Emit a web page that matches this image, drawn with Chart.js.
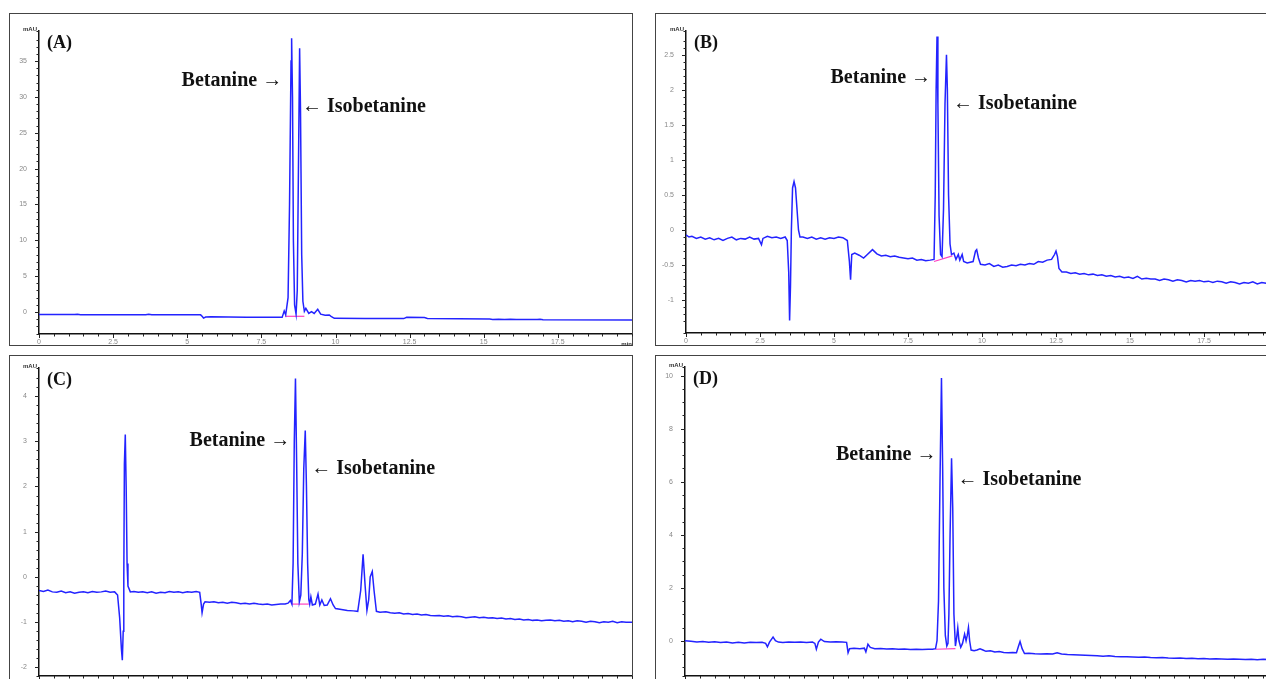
<!DOCTYPE html>
<html>
<head>
<meta charset="utf-8">
<script src="https://cdn.jsdelivr.net/npm/chart.js@4.4.1/dist/chart.umd.min.js"></script>
<style>
  html, body { margin: 0; padding: 0; width: 1266px; height: 679px; overflow: hidden; background: #fff; }
  canvas { position: absolute; }
</style>
</head>
<body>
<canvas id="panelA" width="624" height="333" style="left:9px;top:13px"></canvas>
<canvas id="panelB" width="624" height="333" style="left:655px;top:13px"></canvas>
<canvas id="panelC" width="624" height="333" style="left:9px;top:355px"></canvas>
<canvas id="panelD" width="624" height="333" style="left:655px;top:355px"></canvas>
<script>
// retention time (min), absorbance (mAU)
var traceA = [[0,-0.35],[1.2,-0.36],[1.3,-0.3],[1.4,-0.37],[2.5,-0.38],[3.6,-0.38],[3.7,-0.3],[3.8,-0.39],[5.45,-0.4],
  [5.5,-0.6],[5.55,-0.85],[5.62,-0.7],[5.8,-0.68],[7,-0.72],[8.2,-0.75],[8.27,0.14],[8.32,-0.4],[8.4,2],[8.45,15],
  [8.5,35],[8.52,38.2],[8.55,30],[8.58,10],[8.62,1],[8.67,-0.3],[8.71,3],[8.75,20],[8.79,36.8],[8.82,28],[8.86,8],
  [8.9,1.5],[8.95,0.1],[9.0,0.5],[9.1,-0.2],[9.19,0.04],[9.28,-0.2],[9.4,0.37],[9.5,-0.3],[9.65,-0.45],[9.79,-0.42],
  [9.85,-0.6],[9.96,-0.88],[11,-0.9],[12.3,-0.92],[12.4,-0.75],[13,-0.78],[13.1,-0.9],[15.2,-0.98],[15.3,-1.05],
  [15.5,-1.0],[15.7,-1.05],[15.9,-1.0],[16.1,-1.05],[16.8,-1.06],[16.9,-1.0],[17,-1.07],[20,-1.1]];

var traceB = [[0,-0.07],[0.1,-0.1],[0.2,-0.09],[0.35,-0.12],[0.5,-0.1],[0.65,-0.13],[0.8,-0.11],[0.95,-0.14],[1.1,-0.12],
  [1.25,-0.15],[1.4,-0.12],[1.55,-0.1],[1.7,-0.14],[1.85,-0.12],[2.0,-0.13],[2.15,-0.1],[2.3,-0.13],[2.45,-0.12],
  [2.55,-0.21],[2.6,-0.12],[2.75,-0.09],[2.9,-0.11],[3.05,-0.1],[3.2,-0.12],[3.35,-0.1],[3.42,-0.15],[3.47,-0.6],
  [3.5,-1.29],[3.53,-0.8],[3.56,0.0],[3.6,0.6],[3.65,0.69],[3.7,0.6],[3.75,0.3],[3.8,0.0],[3.85,-0.1],[3.95,-0.1],
  [4.1,-0.12],[4.25,-0.1],[4.4,-0.13],[4.55,-0.11],[4.7,-0.13],[4.85,-0.11],[5.0,-0.12],[5.15,-0.1],[5.3,-0.11],
  [5.45,-0.15],[5.52,-0.45],[5.56,-0.71],[5.6,-0.35],[5.7,-0.33],[5.85,-0.36],[6.0,-0.4],[6.1,-0.36],[6.3,-0.28],
  [6.45,-0.34],[6.6,-0.37],[6.75,-0.36],[6.9,-0.38],[7.05,-0.37],[7.2,-0.39],[7.35,-0.4],[7.5,-0.41],[7.65,-0.4],
  [7.8,-0.43],[7.95,-0.42],[8.1,-0.44],[8.25,-0.43],[8.38,-0.42],[8.42,0.5],[8.45,2.0],[8.48,2.76],[8.51,1.8],
  [8.55,0.2],[8.6,-0.35],[8.65,-0.38],[8.7,0.3],[8.75,1.8],[8.8,2.5],[8.83,2.0],[8.87,0.5],[8.92,-0.2],[8.97,-0.35],
  [9.05,-0.33],[9.12,-0.42],[9.2,-0.35],[9.25,-0.43],[9.33,-0.35],[9.38,-0.45],[9.5,-0.47],[9.6,-0.46],[9.7,-0.45],
  [9.78,-0.3],[9.82,-0.28],[9.88,-0.4],[9.95,-0.49],[10.1,-0.5],[10.25,-0.48],[10.4,-0.52],[10.55,-0.5],[10.7,-0.53],
  [10.85,-0.52],[11.0,-0.5],[11.15,-0.51],[11.3,-0.49],[11.45,-0.5],[11.6,-0.48],[11.75,-0.49],[11.9,-0.45],
  [12.05,-0.46],[12.2,-0.43],[12.35,-0.42],[12.45,-0.35],[12.5,-0.3],[12.55,-0.38],[12.6,-0.55],[12.7,-0.6],
  [12.85,-0.6],[13.0,-0.62],[13.15,-0.61],[13.3,-0.63],[13.45,-0.62],[13.6,-0.64],[13.75,-0.63],[13.9,-0.65],
  [14.05,-0.64],[14.2,-0.66],[14.35,-0.65],[14.5,-0.67],[14.65,-0.66],[14.8,-0.68],[14.95,-0.67],[15.1,-0.69],
  [15.25,-0.66],[15.4,-0.7],[15.55,-0.69],[15.7,-0.7],[15.85,-0.7],[16.0,-0.72],[16.15,-0.7],[16.3,-0.71],
  [16.45,-0.73],[16.6,-0.71],[16.75,-0.72],[16.9,-0.74],[17.05,-0.72],[17.2,-0.73],[17.35,-0.72],[17.5,-0.74],
  [17.65,-0.73],[17.8,-0.75],[17.95,-0.73],[18.1,-0.74],[18.25,-0.76],[18.4,-0.74],[18.55,-0.75],[18.7,-0.77],
  [18.85,-0.75],[19.0,-0.76],[19.15,-0.74],[19.3,-0.77],[19.45,-0.75],[19.6,-0.76],[19.8,-0.77],[20.0,-0.76]];

var traceC = [[0,-0.3],[0.15,-0.32],[0.3,-0.29],[0.45,-0.33],[0.6,-0.34],[0.75,-0.31],[0.9,-0.35],[1.05,-0.33],
  [1.2,-0.36],[1.35,-0.34],[1.5,-0.33],[1.65,-0.35],[1.8,-0.32],[1.95,-0.34],[2.1,-0.33],[2.25,-0.31],[2.4,-0.34],
  [2.55,-0.33],[2.65,-0.4],[2.72,-0.9],[2.78,-1.6],[2.81,-1.84],[2.84,-1.2],[2.86,0.0],[2.88,2.5],[2.91,3.15],
  [2.94,2.0],[2.97,0.3],[3.0,-0.2],[3.08,-0.33],[3.2,-0.32],[3.35,-0.34],[3.5,-0.33],[3.65,-0.35],[3.8,-0.33],
  [3.95,-0.36],[4.1,-0.34],[4.25,-0.35],[4.4,-0.32],[4.55,-0.34],[4.7,-0.33],[4.85,-0.35],[5.0,-0.33],[5.15,-0.34],
  [5.3,-0.32],[5.42,-0.34],[5.47,-0.6],[5.5,-0.79],[5.55,-0.6],[5.6,-0.55],[5.75,-0.56],[5.9,-0.55],[6.05,-0.57],
  [6.2,-0.56],[6.35,-0.58],[6.5,-0.56],[6.65,-0.57],[6.8,-0.59],[6.95,-0.58],[7.1,-0.6],[7.25,-0.58],[7.4,-0.6],
  [7.55,-0.61],[7.7,-0.6],[7.85,-0.62],[8.0,-0.61],[8.15,-0.6],[8.3,-0.6],[8.4,-0.58],[8.48,-0.52],[8.53,-0.6],
  [8.57,0.3],[8.61,3.0],[8.65,4.39],[8.69,2.5],[8.73,0.3],[8.78,-0.55],[8.83,-0.4],[8.88,0.5],[8.93,2.4],[8.98,3.24],
  [9.02,2.0],[9.06,0.3],[9.1,-0.5],[9.13,-0.6],[9.17,-0.44],[9.22,-0.62],[9.32,-0.6],[9.41,-0.38],[9.47,-0.62],
  [9.54,-0.51],[9.62,-0.63],[9.72,-0.62],[9.83,-0.48],[9.92,-0.62],[10.0,-0.7],[10.2,-0.72],[10.4,-0.74],
  [10.6,-0.75],[10.75,-0.76],[10.85,-0.3],[10.93,0.5],[11.0,-0.2],[11.06,-0.74],[11.12,-0.5],[11.17,0.0],
  [11.24,0.12],[11.3,-0.3],[11.38,-0.76],[11.5,-0.78],[11.7,-0.77],[11.85,-0.79],[12.0,-0.8],[12.15,-0.79],
  [12.3,-0.82],[12.45,-0.81],[12.6,-0.83],[12.75,-0.82],[12.9,-0.84],[13.05,-0.83],[13.2,-0.85],[13.35,-0.86],
  [13.5,-0.85],[13.65,-0.87],[13.8,-0.86],[13.95,-0.88],[14.1,-0.87],[14.25,-0.88],[14.4,-0.9],[14.55,-0.89],
  [14.7,-0.88],[14.85,-0.9],[15.0,-0.89],[15.15,-0.91],[15.3,-0.9],[15.45,-0.92],[15.6,-0.91],[15.75,-0.93],
  [15.9,-0.92],[16.05,-0.94],[16.2,-0.93],[16.35,-0.95],[16.5,-0.94],[16.65,-0.96],[16.8,-0.95],[16.95,-0.97],
  [17.1,-0.96],[17.25,-0.95],[17.4,-0.97],[17.55,-0.96],[17.7,-0.98],[17.85,-0.97],[18.0,-0.99],[18.15,-0.97],
  [18.3,-0.98],[18.45,-1.0],[18.6,-0.98],[18.75,-0.99],[18.9,-1.01],[19.05,-0.99],[19.2,-1.0],[19.35,-0.98],
  [19.5,-1.01],[19.65,-0.99],[19.8,-1.0],[20.0,-1.0]];

var traceD = [[0,0.0],[0.2,-0.02],[0.4,-0.05],[0.6,-0.03],[0.8,-0.06],[1.0,-0.04],[1.2,-0.07],[1.4,-0.05],[1.6,-0.08],
  [1.8,-0.06],[2.0,-0.08],[2.2,-0.06],[2.4,-0.07],[2.6,-0.06],[2.72,-0.1],[2.78,-0.23],[2.85,-0.05],[2.97,0.14],
  [3.05,0.0],[3.15,-0.05],[3.3,-0.07],[3.5,-0.05],[3.7,-0.06],[3.9,-0.05],[4.1,-0.07],[4.3,-0.05],[4.38,-0.1],
  [4.43,-0.32],[4.5,-0.05],[4.58,0.06],[4.7,-0.03],[4.9,-0.05],[5.1,-0.04],[5.3,-0.05],[5.45,-0.06],[5.5,-0.45],
  [5.55,-0.3],[5.7,-0.28],[5.9,-0.3],[6.05,-0.28],[6.1,-0.42],[6.17,-0.13],[6.25,-0.25],[6.4,-0.3],[6.6,-0.29],
  [6.8,-0.31],[7.0,-0.3],[7.2,-0.32],[7.4,-0.31],[7.6,-0.33],[7.8,-0.32],[8.0,-0.33],[8.2,-0.32],[8.35,-0.32],
  [8.45,-0.3],[8.5,0.0],[8.55,1.5],[8.6,6.0],[8.65,9.91],[8.69,6.5],[8.73,2.0],[8.78,0.2],[8.83,-0.2],[8.87,-0.1],
  [8.9,1.0],[8.94,4.0],[8.99,6.89],[9.03,5.0],[9.07,1.0],[9.12,-0.2],[9.16,0.1],[9.2,0.49],[9.24,0.0],[9.3,-0.25],
  [9.36,-0.1],[9.43,0.25],[9.48,0.0],[9.52,0.2],[9.56,0.5],[9.6,0.0],[9.65,-0.35],[9.75,-0.38],[9.85,-0.35],
  [9.95,-0.3],[10.05,-0.35],[10.15,-0.4],[10.3,-0.38],[10.45,-0.42],[10.6,-0.41],[10.75,-0.44],[10.9,-0.45],
  [11.05,-0.44],[11.18,-0.45],[11.25,-0.2],[11.3,-0.03],[11.37,-0.3],[11.45,-0.48],[11.6,-0.47],[11.8,-0.49],
  [12.0,-0.5],[12.2,-0.49],[12.4,-0.5],[12.55,-0.45],[12.7,-0.5],[12.9,-0.52],[13.1,-0.53],[13.3,-0.54],[13.5,-0.55],
  [13.7,-0.56],[13.9,-0.57],[14.1,-0.58],[14.3,-0.57],[14.5,-0.59],[14.7,-0.6],[14.9,-0.6],[15.1,-0.61],[15.3,-0.62],
  [15.5,-0.61],[15.7,-0.63],[15.9,-0.64],[16.1,-0.63],[16.3,-0.65],[16.5,-0.66],[16.7,-0.65],[16.9,-0.67],
  [17.1,-0.66],[17.3,-0.68],[17.5,-0.67],[17.7,-0.69],[17.9,-0.68],[18.1,-0.69],[18.3,-0.7],[18.5,-0.69],
  [18.7,-0.7],[18.9,-0.71],[19.1,-0.7],[19.3,-0.72],[19.5,-0.7],[19.7,-0.71],[20.0,-0.72]];

// integration baselines under the two pigment peaks
var baseA = [[8.3,-0.6],[8.95,-0.6]];
var baseB = [[8.38,-0.45],[9.0,-0.37]];
var baseC = [[8.53,-0.6],[9.1,-0.6]];
var baseD = [[8.45,-0.32],[9.12,-0.3]];

var panelNames = ['(A)', '(B)', '(C)', '(D)'];
var peakNames = ['Betanine \u2192', '\u2190 Isobetanine'];
// label anchors [time, mAU]: end of Betanine label, start of Isobetanine label
var labelsA = [[8.2, 32.2], [8.87, 28.6]];
var labelsB = [[8.28, 2.17], [9.02, 1.8]];
var labelsC = [[8.47, 3.0], [9.18, 2.38]];
var labelsD = [[8.48, 7.0], [9.19, 6.06]];

Chart.defaults.font.family = '"Liberation Sans", Arial, sans-serif';

function toPoints(arr) {
  return arr.map(function (p) { return { x: p[0], y: p[1] }; });
}
function isMultiple(v, step) {
  var r = v / step;
  return Math.abs(r - Math.round(r)) < 1e-6;
}
function fmt(v) {
  return String(Math.round(v * 10) / 10);
}

var decor = {
  id: 'decor',
  afterDraw: function (chart) {
    var o = chart.options.plugins.decor;
    var ctx = chart.ctx, a = chart.chartArea;
    var xs = chart.scales.x, ys = chart.scales.y;
    ctx.save();
    // panel frame
    ctx.strokeStyle = '#444';
    ctx.lineWidth = 1;
    ctx.strokeRect(0.5, 0.5, chart.width - 1, chart.height - 1);
    // tick marks
    ctx.strokeStyle = '#222';
    ctx.beginPath();
    xs.ticks.forEach(function (t) {
      var px = Math.round(xs.getPixelForValue(t.value)) + 0.5;
      var len = t.label ? 4 : 2.5;
      ctx.moveTo(px, a.bottom);
      ctx.lineTo(px, a.bottom + len);
    });
    ys.ticks.forEach(function (t) {
      var py = Math.round(ys.getPixelForValue(t.value)) + 0.5;
      var len = t.label ? 4 : 2.5;
      ctx.moveTo(a.left, py);
      ctx.lineTo(a.left - len, py);
    });
    ctx.stroke();
    // time labels under the axis, from the scale's own ticks
    ctx.fillStyle = '#888';
    ctx.font = '7px "Liberation Sans", Arial, sans-serif';
    ctx.textAlign = 'center';
    ctx.textBaseline = 'top';
    xs.ticks.forEach(function (t) {
      if (t.label) ctx.fillText(t.label, xs.getPixelForValue(t.value), a.bottom + 5);
    });
    // units
    ctx.fillStyle = '#333';
    ctx.font = 'bold 6px "Liberation Sans", Arial, sans-serif';
    ctx.textAlign = 'right';
    ctx.textBaseline = 'bottom';
    ctx.fillText('mAU', a.left - 2, a.top + 1);
    ctx.textBaseline = 'top';
    ctx.fillText('min', a.right, a.bottom + 7);
    // panel letter
    ctx.fillStyle = '#111';
    ctx.font = 'bold 18px "Liberation Serif", "Times New Roman", serif';
    ctx.textAlign = 'left';
    ctx.textBaseline = 'middle';
    ctx.fillText(o.name, a.left + 8, a.top + 12);
    // peak names
    ctx.font = 'bold 20px "Liberation Serif", "Times New Roman", serif';
    ctx.textAlign = 'right';
    ctx.fillText(peakNames[0], xs.getPixelForValue(o.labels[0][0]), ys.getPixelForValue(o.labels[0][1]));
    ctx.textAlign = 'left';
    ctx.fillText(peakNames[1], xs.getPixelForValue(o.labels[1][0]), ys.getPixelForValue(o.labels[1][1]));
    ctx.restore();
  }
};

function makePanel(id, name, trace, base, labels, p) {
  new Chart(document.getElementById(id), {
    type: 'line',
    data: {
      datasets: [
        { data: toPoints(trace), borderColor: '#2323ff', borderWidth: 1.5, pointRadius: 0, tension: 0, fill: false },
        { data: toPoints(base), borderColor: '#ff40c0', borderWidth: 1.2, pointRadius: 0, tension: 0, fill: false }
      ]
    },
    options: {
      responsive: false,
      animation: false,
      devicePixelRatio: 1,
      layout: { padding: { top: p.top, right: 1, left: 0, bottom: 0 } },
      plugins: {
        legend: { display: false },
        tooltip: { enabled: false },
        decor: { name: name, labels: labels }
      },
      scales: {
        x: {
          type: 'linear', min: 0, max: 20,
          afterFit: function (s) { s.height = p.xh; },
          border: { color: '#111', width: 1.5 },
          grid: { display: false },
          ticks: {
            display: false, stepSize: 0.5, autoSkip: false, maxRotation: 0,
            callback: function (v) { return (isMultiple(v, 2.5) && v < 19.9) ? fmt(v) : ''; }
          }
        },
        y: {
          type: 'linear', min: p.ymin, max: p.ymax,
          afterFit: function (s) { s.width = p.yw; },
          border: { color: '#111', width: 1.5 },
          grid: { display: false },
          ticks: {
            stepSize: p.minor, autoSkip: false, padding: 4, color: '#888', font: { size: 7 },
            callback: function (v) { return isMultiple(v, p.major) ? fmt(v) : ''; }
          }
        }
      }
    },
    plugins: [decor]
  });
}

makePanel('panelA', panelNames[0], traceA, baseA, labelsA, { top: 18, xh: 12, yw: 30, ymin: -3.07, ymax: 39.2, minor: 1, major: 5 });
makePanel('panelB', panelNames[1], traceB, baseB, labelsB, { top: 18, xh: 13, yw: 31, ymin: -1.47, ymax: 2.84, minor: 0.1, major: 0.5 });
makePanel('panelC', panelNames[2], traceC, baseC, labelsC, { top: 13, xh: 12, yw: 30, ymin: -2.19, ymax: 4.62, minor: 0.2, major: 1 });
makePanel('panelD', panelNames[3], traceD, baseD, labelsD, { top: 12, xh: 12, yw: 30, ymin: -1.33, ymax: 10.33, minor: 0.5, major: 2 });
</script>
</body>
</html>
